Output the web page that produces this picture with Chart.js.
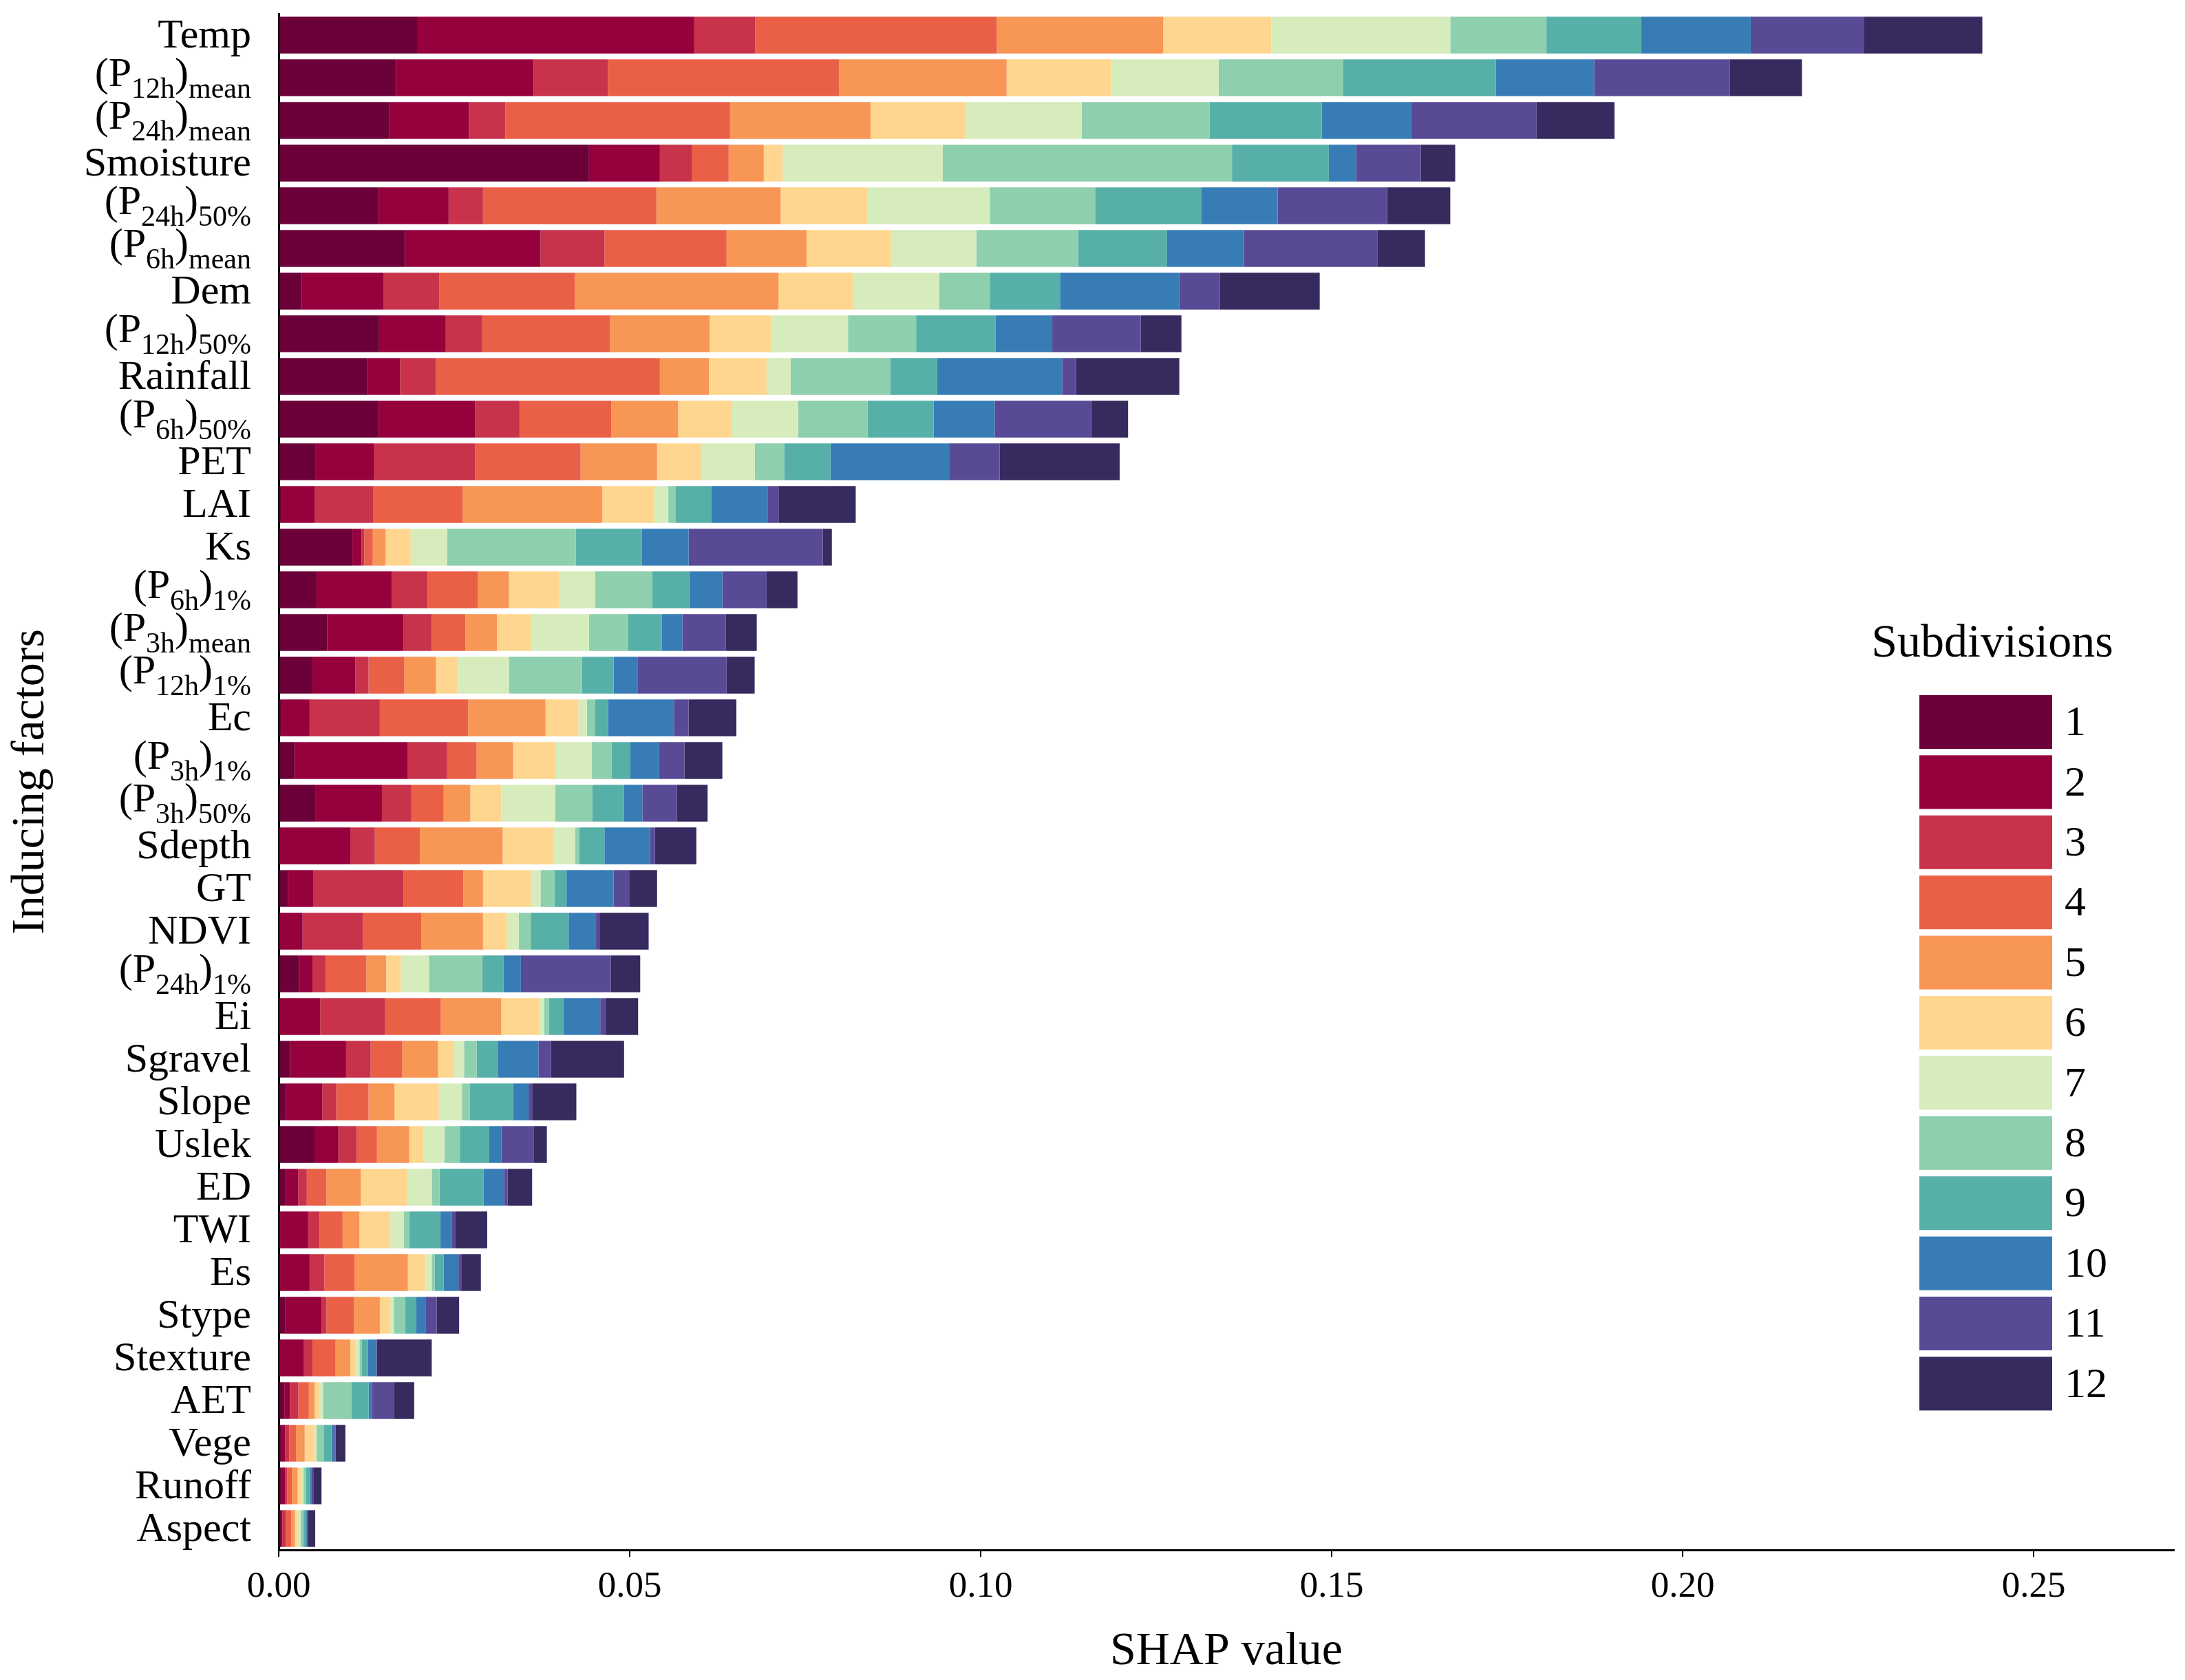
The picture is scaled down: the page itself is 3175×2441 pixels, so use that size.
<!DOCTYPE html>
<html>
<head>
<meta charset="utf-8">
<script src="https://cdn.jsdelivr.net/npm/chart.js@4.4.1/dist/chart.umd.min.js"></script>
<style>
  html, body { margin: 0; padding: 0; background: #ffffff; }
  #c { display: block; }
</style>
</head>
<body>
<canvas id="c" width="3175" height="2441"></canvas>
<script>
// ---------------- DATA ----------------
const categories = [
  "Temp", "(P12h)mean", "(P24h)mean", "Smoisture", "(P24h)50%", "(P6h)mean",
  "Dem", "(P12h)50%", "Rainfall", "(P6h)50%", "PET", "LAI",
  "Ks", "(P6h)1%", "(P3h)mean", "(P12h)1%", "Ec", "(P3h)1%",
  "(P3h)50%", "Sdepth", "GT", "NDVI", "(P24h)1%", "Ei",
  "Sgravel", "Slope", "Uslek", "ED", "TWI", "Es",
  "Stype", "Stexture", "AET", "Vege", "Runoff", "Aspect"
];

const seriesNames = ["1", "2", "3", "4", "5", "6", "7", "8", "9", "10", "11", "12"];

const sub1  = [0.0198,0.0167,0.0157,0.0442,0.0142,0.0180,0.0033,0.0143,0.0127,0.0142,0.0052,0.0004,0.0105,0.0054,0.0069,0.0048,0.0004,0.0023,0.0052,0.0001,0.0013,0.0001,0.0029,0.0001,0.0016,0.0010,0.0051,0.0010,0.0002,0.0002,0.0009,0.0001,0.0008,0.0003,0.0003,0.0003];
const sub2  = [0.0394,0.0196,0.0114,0.0101,0.0100,0.0193,0.0116,0.0095,0.0046,0.0138,0.0084,0.0047,0.0013,0.0107,0.0109,0.0061,0.0040,0.0161,0.0095,0.0101,0.0036,0.0033,0.0019,0.0058,0.0080,0.0052,0.0034,0.0018,0.0040,0.0042,0.0052,0.0035,0.0008,0.0006,0.0006,0.0002];
const sub3  = [0.0087,0.0106,0.0052,0.0046,0.0049,0.0091,0.0080,0.0052,0.0051,0.0063,0.0144,0.0084,0.0004,0.0051,0.0040,0.0019,0.0100,0.0056,0.0042,0.0035,0.0129,0.0086,0.0019,0.0092,0.0035,0.0020,0.0026,0.0012,0.0016,0.0021,0.0007,0.0012,0.0012,0.0006,0.0003,0.0005];
const sub4  = [0.0344,0.0329,0.0320,0.0052,0.0247,0.0174,0.0193,0.0182,0.0319,0.0131,0.0150,0.0127,0.0012,0.0072,0.0048,0.0051,0.0126,0.0042,0.0046,0.0064,0.0085,0.0083,0.0058,0.0080,0.0045,0.0046,0.0029,0.0028,0.0033,0.0043,0.0039,0.0033,0.0015,0.0010,0.0007,0.0008];
const sub5  = [0.0237,0.0239,0.0200,0.0050,0.0177,0.0114,0.0290,0.0142,0.0070,0.0095,0.0109,0.0199,0.0018,0.0044,0.0045,0.0045,0.0110,0.0052,0.0038,0.0118,0.0028,0.0088,0.0028,0.0086,0.0051,0.0037,0.0046,0.0049,0.0024,0.0076,0.0037,0.0021,0.0008,0.0012,0.0008,0.0005];
const sub6  = [0.0154,0.0149,0.0135,0.0027,0.0124,0.0120,0.0106,0.0087,0.0082,0.0077,0.0062,0.0074,0.0036,0.0071,0.0048,0.0030,0.0047,0.0061,0.0044,0.0073,0.0068,0.0034,0.0021,0.0055,0.0023,0.0063,0.0020,0.0067,0.0044,0.0025,0.0015,0.0008,0.0006,0.0014,0.0005,0.0004];
const sub7  = [0.0255,0.0153,0.0166,0.0228,0.0174,0.0122,0.0123,0.0110,0.0034,0.0094,0.0077,0.0020,0.0052,0.0052,0.0083,0.0074,0.0012,0.0051,0.0077,0.0030,0.0014,0.0017,0.0040,0.0006,0.0014,0.0033,0.0030,0.0034,0.0019,0.0009,0.0005,0.0005,0.0006,0.0003,0.0003,0.0004];
const sub8  = [0.0137,0.0177,0.0182,0.0412,0.0150,0.0145,0.0072,0.0097,0.0142,0.0099,0.0042,0.0010,0.0183,0.0081,0.0056,0.0104,0.0012,0.0028,0.0053,0.0006,0.0020,0.0017,0.0076,0.0007,0.0018,0.0011,0.0022,0.0011,0.0008,0.0004,0.0016,0.0003,0.0041,0.0010,0.0004,0.0004];
const sub9  = [0.0135,0.0218,0.0160,0.0138,0.0151,0.0126,0.0100,0.0113,0.0067,0.0094,0.0066,0.0051,0.0094,0.0053,0.0048,0.0045,0.0018,0.0027,0.0045,0.0036,0.0017,0.0054,0.0030,0.0021,0.0030,0.0062,0.0042,0.0063,0.0044,0.0013,0.0016,0.0009,0.0024,0.0011,0.0006,0.0003];
const sub10 = [0.0156,0.0140,0.0127,0.0039,0.0109,0.0110,0.0170,0.0081,0.0178,0.0087,0.0169,0.0081,0.0067,0.0047,0.0029,0.0034,0.0094,0.0041,0.0026,0.0065,0.0067,0.0039,0.0025,0.0052,0.0058,0.0022,0.0017,0.0029,0.0017,0.0021,0.0013,0.0012,0.0005,0.0004,0.0002,0.0002];
const sub11 = [0.0161,0.0193,0.0179,0.0092,0.0156,0.0190,0.0058,0.0126,0.0020,0.0138,0.0072,0.0015,0.0191,0.0063,0.0062,0.0127,0.0021,0.0036,0.0049,0.0007,0.0023,0.0005,0.0128,0.0007,0.0018,0.0005,0.0046,0.0005,0.0005,0.0004,0.0016,0.0001,0.0031,0.0002,0.0003,0.0002];
const sub12 = [0.0169,0.0103,0.0111,0.0049,0.0090,0.0068,0.0142,0.0058,0.0147,0.0052,0.0171,0.0110,0.0013,0.0044,0.0044,0.0040,0.0068,0.0054,0.0044,0.0059,0.0039,0.0070,0.0042,0.0047,0.0104,0.0063,0.0019,0.0035,0.0045,0.0028,0.0032,0.0078,0.0029,0.0014,0.0011,0.0010];

const seriesValues = [sub1, sub2, sub3, sub4, sub5, sub6, sub7, sub8, sub9, sub10, sub11, sub12];

const xTickValues = [0, 0.05, 0.10, 0.15, 0.20, 0.25];

const colors = ["#6c0038", "#96003c", "#c8324b", "#ea6046", "#f89655", "#fed690",
                "#d6ecbc", "#8ecfae", "#56b0a8", "#387cb6", "#594a96", "#372a5e"];

// ---------------- STYLE ----------------
const FONT = "'Liberation Serif', 'Times New Roman', serif";

// custom y labels with subscripts
const yLabelPlugin = {
  id: 'yLabels',
  afterDraw(chart) {
    const ctx = chart.ctx;
    const ys = chart.scales.y;
    const rightX = chart.chartArea.left - 40;
    const mainSize = 60, subSize = 42;
    ctx.save();
    ctx.fillStyle = '#000';
    ctx.textBaseline = 'alphabetic';
    ctx.textAlign = 'left';
    categories.forEach((lab, i) => {
      const yc = ys.getPixelForValue(i);
      const m = lab.match(/^\((P)(\d+h)\)(.+)$/);
      let parts;
      if (m) {
        parts = [
          { t: '(' + m[1], sub: false },
          { t: m[2], sub: true },
          { t: ')', sub: false },
          { t: m[3], sub: true }
        ];
      } else {
        parts = [{ t: lab, sub: false }];
      }
      let total = 0;
      parts.forEach(p => {
        ctx.font = (p.sub ? subSize : mainSize) + 'px ' + FONT;
        p.w = ctx.measureText(p.t).width;
        total += p.w;
      });
      let x = rightX - total;
      const base = m ? yc + 12 : yc + 18;
      parts.forEach(p => {
        ctx.font = (p.sub ? subSize : mainSize) + 'px ' + FONT;
        ctx.fillText(p.t, x, p.sub ? base + 17 : base);
        x += p.w;
      });
    });
    ctx.restore();
  }
};

// custom legend drawn inside the plot area
const legendPlugin = {
  id: 'insideLegend',
  afterDraw(chart) {
    const ctx = chart.ctx;
    const ca = chart.chartArea;
    const boxX = ca.right - 370, boxW = 193, boxH = 78, step = 87.4;
    const y0 = ca.top + 990;
    ctx.save();
    ctx.fillStyle = '#000';
    ctx.font = '68px ' + FONT;
    ctx.textAlign = 'center';
    ctx.textBaseline = 'middle';
    ctx.fillText('Subdivisions', boxX + 106, y0 - 74);
    ctx.textAlign = 'left';
    ctx.font = '62px ' + FONT;
    chart.data.datasets.forEach((ds, i) => {
      const y = y0 + i * step;
      ctx.fillStyle = ds.backgroundColor;
      ctx.fillRect(boxX, y, boxW, boxH);
      ctx.fillStyle = '#000';
      ctx.fillText(ds.label, boxX + 211, y + boxH / 2 + 3);
    });
    ctx.restore();
  }
};

const datasets = seriesValues.map((vals, i) => ({
  label: seriesNames[i],
  data: vals,
  backgroundColor: colors[i],
  borderWidth: 0,
  categoryPercentage: 1.0,
  barPercentage: 0.86
}));

new Chart(document.getElementById('c'), {
  type: 'bar',
  data: { labels: categories, datasets: datasets },
  plugins: [yLabelPlugin, legendPlugin],
  options: {
    indexAxis: 'y',
    responsive: false,
    devicePixelRatio: 1,
    animation: false,
    layout: { padding: { top: 20, right: 16, left: 0, bottom: 0 } },
    plugins: {
      legend: { display: false },
      tooltip: { enabled: false }
    },
    scales: {
      x: {
        stacked: true,
        min: 0,
        max: 0.27,
        afterBuildTicks(scale) {
          scale.ticks = xTickValues.map(v => ({ value: v }));
        },
        afterFit(scale) { scale.height = 189; },
        border: { display: true, color: '#000', width: 3 },
        grid: { display: true, drawOnChartArea: false, drawTicks: true, tickLength: 10, lineWidth: 2, color: '#000' },
        ticks: {
          color: '#000',
          font: { family: FONT, size: 53 },
          padding: 12,
          maxRotation: 0,
          callback: (v) => Number(v).toFixed(2)
        },
        title: {
          display: true,
          text: 'SHAP value',
          color: '#000',
          font: { family: FONT, size: 68 },
          padding: { top: 0, bottom: 0 }
        }
      },
      y: {
        stacked: true,
        afterFit(scale) { scale.width = 405; },
        border: { display: true, color: '#000', width: 3 },
        grid: { display: false, drawTicks: false },
        ticks: { display: false },
        title: {
          display: true,
          text: 'Inducing factors',
          color: '#000',
          font: { family: FONT, size: 68 },
          padding: { top: 4, bottom: 0 }
        }
      }
    }
  }
});
</script>
</body>
</html>
